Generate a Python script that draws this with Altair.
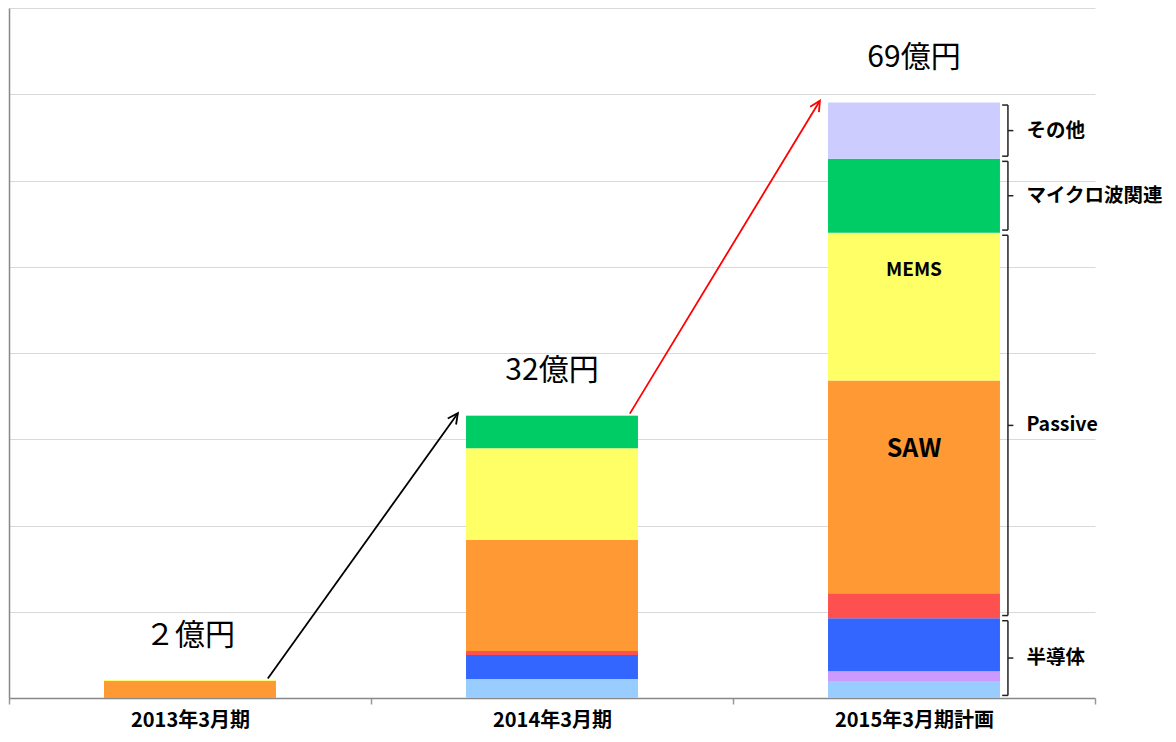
import math
import altair as alt
import pandas as pd

FONT = "Noto Sans CJK JP"

# ---- data (unit: 億円) ----
categories = ["2013年3月期", "2014年3月期", "2015年3月期計画"]
segments = ["半導体1", "半導体2", "半導体3", "Passive他", "SAW", "MEMS", "マイクロ波関連", "その他"]
colors = ["#99CCFF", "#CC99FF", "#3366FF", "#FF5050", "#FF9933", "#FFFF66", "#00CC66", "#CCCCFF"]
v2013 = [0, 0, 0, 0, 2.0, 0.1, 0, 0]
v2014 = [2.2, 0, 2.8, 0.46, 12.9, 10.6, 3.76, 0.1]
v2015 = [1.88, 1.23, 6.15, 2.88, 24.67, 17.14, 8.57, 6.53]
total_labels = ["２億円", "32億円", "69億円"]

bracket_labels = ["半導体", "Passive", "マイクロ波関連", "その他"]
bracket_groups = [(0, 3), (3, 6), (6, 7), (7, 8)]

inbar_labels = ["SAW", "MEMS"]
inbar_segment = [4, 5]
inbar_frac = [0.68, 0.75]

# ---- layout constants ----
W, H = 1086, 690
YMAX = 80
BAR_FRAC = 0.475
series = [v2013, v2014, v2015]

rows = []
for cat, vals in zip(categories, series):
    for k, (s, v) in enumerate(zip(segments, vals)):
        if v > 0:
            rows.append({"cat": cat, "seg": s, "order": k, "value": v})
bars_df = pd.DataFrame(rows)

totals = [sum(v) for v in series]
tot_df = pd.DataFrame({"cat": categories, "total": totals, "label": total_labels})

cum15 = [0.0]
for v in v2015:
    cum15.append(cum15[-1] + v)

ysc = alt.Scale(domain=[0, YMAX], nice=False, zero=True)
xsc = alt.Scale(paddingInner=0, paddingOuter=0)
xaxis = alt.Axis(title=None, labelAngle=0, labelFont=FONT, labelFontSize=20,
                 labelFontWeight="bold", labelColor="black", tickBand="extent",
                 tickColor="#999999", tickSize=6, tickWidth=1.5, domainColor="#888888",
                 domainWidth=1.5, labelPadding=6, grid=False)
yaxis = alt.Axis(title=None, values=list(range(0, YMAX + 1, 10)), labels=False, ticks=False,
                 grid=True, gridColor="#d9d9d9", gridWidth=1, domainColor="#888888",
                 domainWidth=1.5)

def xb():
    return alt.X("cat:N", sort=categories, scale=xsc, axis=xaxis)

def yb(f, stack=None):
    return alt.Y(f"{f}:Q", stack=stack, scale=ysc, axis=yaxis)

bars = alt.Chart(bars_df).mark_bar(width=alt.RelativeBandSize(BAR_FRAC)).encode(
    x=xb(),
    y=yb("value", "zero"),
    color=alt.Color("seg:N", scale=alt.Scale(domain=segments, range=colors), legend=None),
    order=alt.Order("order:Q", sort="ascending"),
)

tot_text = alt.Chart(tot_df).mark_text(font=FONT, fontSize=30, dy=-44, baseline="middle",
                                       color="black").encode(
    x=xb(), y=yb("total"), text="label:N",
)

inbar_y = [cum15[s] + f * v2015[s] for s, f in zip(inbar_segment, inbar_frac)]
inbar_df = pd.DataFrame({"cat": [categories[2]] * 2, "y": inbar_y, "label": inbar_labels})
saw = alt.Chart(inbar_df.iloc[[0]]).mark_text(font=FONT, fontSize=25, fontWeight="bold",
                                               baseline="middle", color="black").encode(
    x=xb(), y=yb("y"), text="label:N")
mems = alt.Chart(inbar_df.iloc[[1]]).mark_text(font=FONT, fontSize=19, fontWeight="bold",
                                                baseline="middle", color="black").encode(
    x=xb(), y=yb("y"), text="label:N")

band_layer = alt.layer(bars, tot_text, saw, mems)

# ---- overlay on a continuous x scale: one unit per category band ----
qsc = alt.Scale(domain=[0, len(categories)], nice=False, zero=False)

def xq(f):
    return alt.X(f"{f}:Q", scale=qsc, axis=None)

def yq(f):
    return alt.Y(f"{f}:Q", scale=ysc, axis=yaxis)

arrow_cols = ["black", "red"]
ax0 = [i + 0.715 for i in range(2)]
ax1 = [i + 1.24 for i in range(2)]
ay0 = [totals[i] + 0.15 for i in range(2)]
ay1 = [totals[i + 1] + 0.2 for i in range(2)]
px_x = W / len(categories)
px_y = H / YMAX
angles = [math.degrees(math.atan2((x1 - x0) * px_x, (y1 - y0) * px_y))
          for x0, x1, y0, y1 in zip(ax0, ax1, ay0, ay1)]
arr_df = pd.DataFrame({"x": ax0, "x2": ax1, "y": ay0, "y2": ay1, "col": arrow_cols, "ang": angles})

arrows = alt.Chart(arr_df).mark_rule(strokeWidth=1.8).encode(
    x=xq("x"), x2="x2:Q", y=yq("y"), y2="y2:Q", stroke=alt.Stroke("col:N", scale=None))
heads = alt.Chart(arr_df).mark_point(shape="M-0.5,1L0,0L0.5,1", filled=False, size=420,
                                     strokeWidth=1.8, opacity=1).encode(
    x=xq("x2"), y=yq("y2"), angle=alt.Angle("ang:Q", scale=None),
    stroke=alt.Stroke("col:N", scale=None))

bar_right = 2 + 0.5 + BAR_FRAC / 2
bx_hook = bar_right + 0.006
bx_vert = bar_right + 0.022
bx_tick = bar_right + 0.037
bx_label = bar_right + 0.073
gap = 0.3
brows = []
lrows = []
for (a, b), lab in zip(bracket_groups, bracket_labels):
    lo = cum15[a] + gap
    hi = cum15[b] - gap
    mid = (lo + hi) / 2
    brows.append({"x": bx_vert, "x2": bx_vert, "y": lo, "y2": hi})
    brows.append({"x": bx_hook, "x2": bx_vert, "y": lo, "y2": lo})
    brows.append({"x": bx_hook, "x2": bx_vert, "y": hi, "y2": hi})
    brows.append({"x": bx_vert, "x2": bx_tick, "y": mid, "y2": mid})
    lrows.append({"x": bx_label, "y": mid, "label": lab})
br_df = pd.DataFrame(brows)
bl_df = pd.DataFrame(lrows)

brackets = alt.Chart(br_df).mark_rule(strokeWidth=1.5, color="#222222").encode(
    x=xq("x"), x2="x2:Q", y=yq("y"), y2="y2:Q")
blabels = alt.Chart(bl_df).mark_text(font=FONT, fontSize=19.5, fontWeight="bold", align="left",
                                     baseline="middle", color="black").encode(
    x=xq("x"), y=yq("y"), text="label:N")

overlay = alt.layer(arrows, heads, brackets, blabels)

chart = alt.layer(band_layer, overlay).resolve_scale(x="independent").properties(
    width=W, height=H,
    padding={"left": 0, "top": 0, "right": 4, "bottom": 4},
).configure_view(stroke=None)

chart.save("out.html", embed_options={"renderer": "svg", "actions": False})
